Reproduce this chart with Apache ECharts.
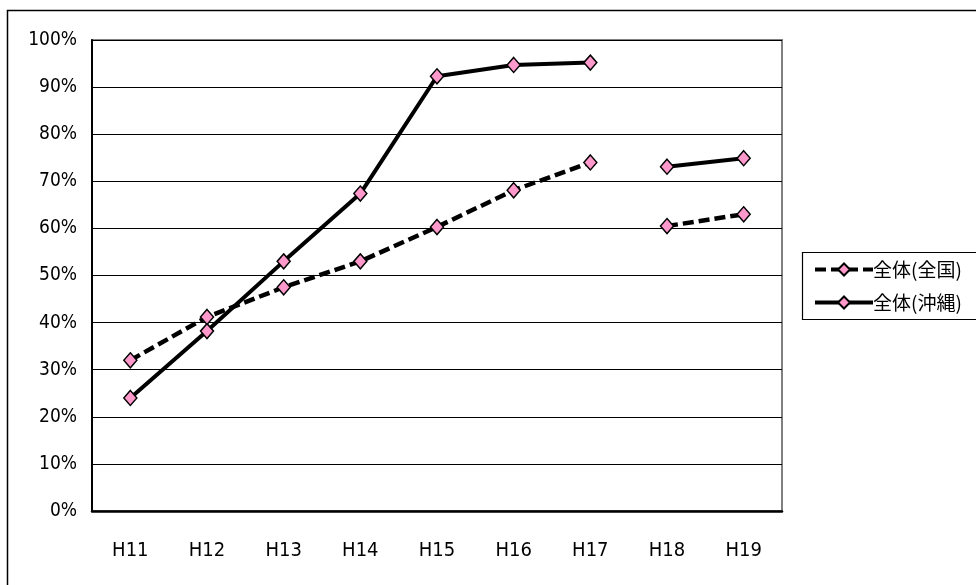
<!DOCTYPE html>
<html><head><meta charset="utf-8">
<script src="https://cdn.jsdelivr.net/npm/echarts@6/dist/echarts.min.js"></script>
<style>html,body{margin:0;padding:0;background:#fff}#c{width:976px;height:585px}</style>
</head><body><div id="c"></div>
<script>
var categories = ['H11','H12','H13','H14','H15','H16','H17','H18','H19'];
var nationalName = '全体(全国)';
var okinawaName = '全体(沖縄)';
var national = [32, 41.2, 47.5, 53, 60.3, 68.1, 74, 60.5, 63];
var okinawa = [24, 38.2, 53, 67.4, 92.3, 94.7, 95.2, 73.1, 74.9];
// connected runs of categories (index ranges, inclusive)
var segments = [[0, 6], [7, 8]];
var yTicks = [0, 10, 20, 30, 40, 50, 60, 70, 80, 90, 100];

function seg(arr, s) {
  return arr.map(function (v, i) { return (i >= s[0] && i <= s[1]) ? v : '-'; });
}
var series = [];
segments.forEach(function (s) {
  series.push({
    name: nationalName, type: 'line', data: seg(national, s),
    symbol: 'diamond', symbolSize: [13, 15], connectNulls: false,
    lineStyle: { color: '#000', width: 4.5, type: [11, 5] },
    itemStyle: { color: '#FF99CC', borderColor: '#000', borderWidth: 1.5 },
    animation: false, z: 3
  });
  series.push({
    name: okinawaName, type: 'line', data: seg(okinawa, s),
    symbol: 'diamond', symbolSize: [13, 15], connectNulls: false,
    lineStyle: { color: '#000', width: 4, type: 'solid' },
    itemStyle: { color: '#FF99CC', borderColor: '#000', borderWidth: 1.5 },
    animation: false, z: 2
  });
});

var chart = echarts.init(document.getElementById('c'), null, { renderer: 'canvas' });
chart.setOption({
  backgroundColor: '#fff',
  animation: false,
  graphic: [
    { type: 'rect', shape: { x: 7.5, y: 10.5, width: 1000, height: 600 },
      style: { fill: null, stroke: '#000', lineWidth: 1.5 }, z: -10 },
    { type: 'rect', shape: { x: 802.5, y: 252.5, width: 200, height: 67 },
      style: { fill: '#fff', stroke: '#000', lineWidth: 1.2 }, z: 0 }
  ],
  legend: {
    data: [nationalName, okinawaName],
    orient: 'vertical', left: 808, top: 255,
    itemWidth: 58, itemHeight: 15, itemGap: 14,
    lineStyle: { width: 4 },
    textStyle: { fontFamily: 'Noto Sans CJK JP', fontSize: 19, color: '#000', padding: [0, 0, 0, -5] },
    z: 5
  },
  grid: { left: 92, top: 40, width: 690, height: 471, show: true, borderColor: '#808080', borderWidth: 2, backgroundColor: 'transparent' },
  xAxis: {
    type: 'category', data: categories, boundaryGap: true,
    axisLine: { lineStyle: { color: '#000', width: 2.5 } },
    axisTick: { inside: true, length: 5, lineStyle: { color: '#000', width: 1 } },
    axisLabel: { margin: 30, fontFamily: '"DejaVu Sans Condensed", "DejaVu Sans", sans-serif', fontSize: 20, color: '#000' }
  },
  yAxis: {
    type: 'value', min: yTicks[0], max: yTicks[yTicks.length - 1], interval: 10,
    axisLine: { show: true, lineStyle: { color: '#000', width: 2 } },
    axisTick: { show: true, inside: false, length: 0 },
    splitLine: { lineStyle: { color: '#000', width: 1 } },
    axisLabel: { margin: 15, fontFamily: '"DejaVu Sans Condensed", "DejaVu Sans", sans-serif', fontSize: 19, color: '#000',
      formatter: function (v) { return v + '%'; } }
  },
  series: series
});
</script></body></html>
